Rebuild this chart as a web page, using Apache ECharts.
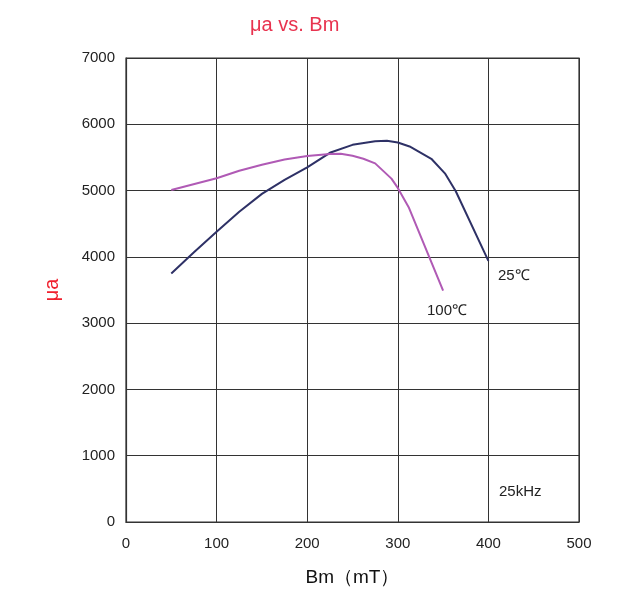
<!DOCTYPE html>
<html>
<head>
<meta charset="utf-8">
<script src="https://cdn.jsdelivr.net/npm/echarts@6/dist/echarts.min.js"></script>
<style>
html,body{margin:0;padding:0;background:#fff;}
#c{width:619px;height:592px;}
</style>
</head>
<body>
<div id="c"></div>
<script>
// Data
const bm25 = [50, 75, 100, 125, 150, 175, 200, 225, 250, 275, 288, 300, 313, 337, 352, 364, 400];
const ua25 = [3750, 4070, 4380, 4680, 4950, 5160, 5350, 5570, 5690, 5745, 5750, 5725, 5665, 5480, 5260, 4990, 3940];
const bm100 = [50, 100, 125, 150, 175, 200, 225, 237, 250, 262, 275, 293, 300, 312, 350];
const ua100 = [5010, 5185, 5300, 5390, 5470, 5520, 5550, 5555, 5525, 5480, 5410, 5180, 5040, 4750, 3490];
const xTicks = [0, 100, 200, 300, 400, 500];
const yTicks = [0, 1000, 2000, 3000, 4000, 5000, 6000, 7000];
const labels = { t25: '25℃', t100: '100℃', freq: '25kHz' };

const chart = echarts.init(document.getElementById('c'), null, { renderer: 'canvas' });
const font = 'Liberation Sans';
chart.setOption({
  animation: false,
  backgroundColor: '#fff',
  title: {
    text: 'μa vs. Bm',
    left: 245, top: 10,
    textStyle: { color: '#E8334F', fontSize: 20, fontWeight: 'normal', fontFamily: font }
  },
  grid: { left: 126, right: 40, top: 58, bottom: 66, show: true, borderColor: '#333', borderWidth: 1.2 },
  xAxis: {
    type: 'value', min: xTicks[0], max: xTicks[xTicks.length - 1], interval: 100,
    name: 'Bm（mT）', nameLocation: 'middle', nameGap: 46,
    nameTextStyle: { color: '#111', fontSize: 19, fontFamily: font },
    axisLine: { show: true, lineStyle: { color: '#333', width: 1.2 } },
    axisTick: { show: false },
    axisLabel: { color: '#222', fontSize: 15, fontFamily: font, margin: 14, formatter: v => String(v) },
    splitLine: { show: true, lineStyle: { color: '#333', width: 1 } }
  },
  yAxis: {
    type: 'value', min: yTicks[0], max: yTicks[yTicks.length - 1], interval: 1000,
    name: 'μa', nameLocation: 'middle', nameGap: 64, nameRotate: 90,
    nameTextStyle: { color: '#F0202E', fontSize: 20, fontFamily: font },
    axisLine: { show: true, lineStyle: { color: '#333', width: 1.2 } },
    axisTick: { show: false },
    axisLabel: { color: '#222', fontSize: 15, fontFamily: font, margin: 11, formatter: v => String(v) },
    splitLine: { show: true, lineStyle: { color: '#333', width: 1 } }
  },
  series: [
    {
      name: '25℃', type: 'line', showSymbol: false, smooth: false,
      data: bm25.map((x, i) => [x, ua25[i]]),
      lineStyle: { color: '#2E3166', width: 2 }
    },
    {
      name: '100℃', type: 'line', showSymbol: false, smooth: false,
      data: bm100.map((x, i) => [x, ua100[i]]),
      lineStyle: { color: '#B05AB5', width: 2 }
    }
  ],
  graphic: [
    { type: 'text', x: 498, y: 268, style: { text: labels.t25, fill: '#222', fontSize: 15, fontFamily: font } },
    { type: 'text', x: 427, y: 303, style: { text: labels.t100, fill: '#222', fontSize: 15, fontFamily: font } },
    { type: 'text', x: 499, y: 484, style: { text: labels.freq, fill: '#222', fontSize: 15, fontFamily: font } }
  ]
});
</script>
</body>
</html>
